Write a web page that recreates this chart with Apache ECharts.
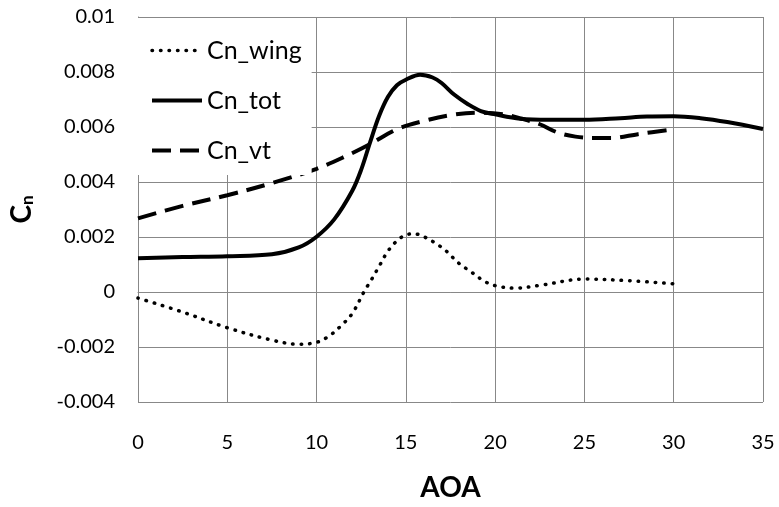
<!DOCTYPE html>
<html>
<head>
<meta charset="utf-8">
<script src="https://cdn.jsdelivr.net/npm/echarts@6/dist/echarts.min.js"></script>
<style>html,body{margin:0;padding:0;background:#fff;}#c{width:779px;height:507px;}</style>
</head>
<body>
<div id="c"></div>
<script>
var aoaWing = [0,2.5,5,7.5,9,10,10.7,11.4,12,12.65,13.1,13.55,14,14.6,15,15.4,15.8,16.6,17.3,17.9,18.7,19.4,20,21.1,22.5,25,27.5,30];
var cnWing = [-0.00022,-0.00073,-0.0013,-0.00175,-0.0019,-0.00183,-0.0016,-0.00121,-0.00078,0,0.00048,0.00099,0.00149,0.00192,0.00207,0.00212,0.00207,0.0018,0.00147,0.00108,0.00071,0.00039,0.00023,0.00014,0.00024,0.00047,0.00041,0.0003];

var aoaTot = [0,2.5,5,7.5,9,10,11,12,12.5,13,13.5,14,14.5,15,15.8,16.5,17,17.7,18.5,19.2,20,21.4,23,25,27,28.5,30,31.5,33,35];
var cnTot = [0.00123,0.00127,0.0013,0.00137,0.00162,0.00201,0.00265,0.00368,0.00445,0.00545,0.0064,0.0071,0.00752,0.00772,0.0079,0.0078,0.0076,0.00718,0.00682,0.00658,0.00646,0.0063,0.00626,0.00626,0.00632,0.00638,0.00639,0.00632,0.00618,0.00593];

var aoaVt = [0,2.5,5,7.5,10,11.7,13,14.5,16,17.5,19,20.5,21.5,22.5,23.5,24.5,25.5,26.5,28,30];
var cnVt = [0.00268,0.00313,0.00352,0.00396,0.00448,0.00496,0.00538,0.00592,0.00622,0.00643,0.00652,0.00646,0.0063,0.0061,0.0058,0.00565,0.0056,0.0056,0.00574,0.00592];

var xTicks = {min:0, max:35, interval:5};
var yTicks = {min:-0.004, max:0.01, interval:0.002};
var names = ['Cn_wing','Cn_tot','Cn_vt'];

function pairs(xs, ys){ return xs.map(function(x,i){ return [x, ys[i]]; }); }

var FONT = 'Lato';
var styles = [
  {color:'#000', width:3.5, type:[0.5,8], cap:'round'},
  {color:'#000', width:4, type:'solid'},
  {color:'#000', width:4, type:[19,9]}
];
var chart = echarts.init(document.getElementById('c'), null, {renderer:'canvas'});
chart.setOption({
  animation:false,
  backgroundColor:'#fff',
  grid:{left:135, right:16, top:17, bottom:103, containLabel:false},
  legend:{
    orient:'vertical', left:136, top:18,
    data:names.map(function(n,i){ return {name:n, lineStyle:styles[i]}; }),
    itemWidth:50, itemHeight:20, itemGap:25,
    padding:[20,10,12,14],
    backgroundColor:'#fff',
    itemStyle:{opacity:0},
    textStyle:{fontFamily:FONT, fontSize:25, color:'#000'}
  },
  xAxis:{
    type:'value', min:xTicks.min, max:xTicks.max, interval:xTicks.interval,
    name:'AOA', nameLocation:'middle', nameGap:72,
    nameTextStyle:{fontFamily:FONT, fontSize:28, fontWeight:'bold', color:'#000'},
    axisLine:{show:true, lineStyle:{color:'#888', width:1}},
    axisTick:{show:false},
    axisLabel:{fontFamily:FONT, fontSize:20, color:'#000', margin:31},
    splitLine:{show:true, lineStyle:{color:'#888', width:1}}
  },
  yAxis:{
    type:'value', min:yTicks.min, max:yTicks.max, interval:yTicks.interval,
    name:'{c|C}{n|n}', nameLocation:'middle', nameRotate:90, nameGap:102,
    nameTextStyle:{
      rich:{
        c:{fontFamily:FONT, fontSize:28, fontWeight:'bold', color:'#000', lineHeight:28},
        n:{fontFamily:FONT, fontSize:17, fontWeight:'bold', color:'#000', lineHeight:14, verticalAlign:'bottom', padding:[6,0,0,0]}
      }
    },
    axisLine:{show:true, lineStyle:{color:'#888', width:1}},
    axisTick:{show:false},
    axisLabel:{fontFamily:FONT, fontSize:20, color:'#000', margin:23,
      formatter:function(v){ return String(+v.toFixed(3)); }},
    splitLine:{show:true, lineStyle:{color:'#888', width:1}}
  },
  series:[
    {name:names[0], type:'line', data:pairs(aoaWing, cnWing), smooth:0.35, symbol:'none',
     lineStyle:styles[0], itemStyle:{color:'#000'}},
    {name:names[1], type:'line', data:pairs(aoaTot, cnTot), smooth:0.35, symbol:'none',
     lineStyle:styles[1], itemStyle:{color:'#000'}},
    {name:names[2], type:'line', data:pairs(aoaVt, cnVt), smooth:0.35, symbol:'none',
     lineStyle:styles[2], itemStyle:{color:'#000'}}
  ]
});
</script>
</body>
</html>
